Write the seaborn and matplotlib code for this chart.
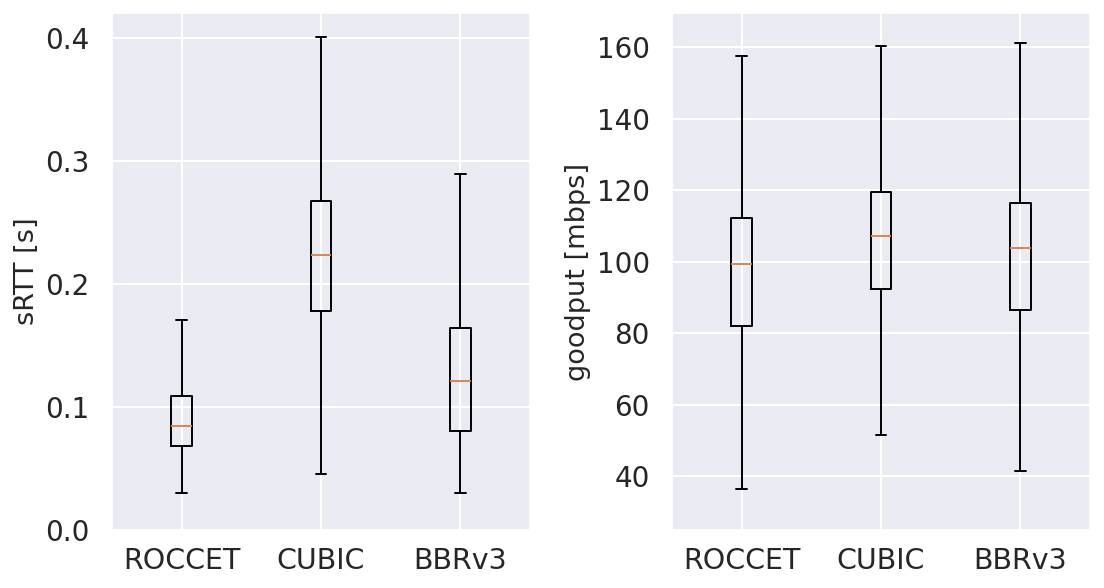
import matplotlib
matplotlib.use("Agg")
import matplotlib.pyplot as plt
import seaborn as sns

# Per-algorithm box statistics
algos = ["ROCCET", "CUBIC", "BBRv3"]

srtt_low = [0.0297, 0.0453, 0.0297]
srtt_q1 = [0.0686, 0.1783, 0.0808]
srtt_med = [0.0842, 0.2233, 0.1211]
srtt_q3 = [0.1092, 0.2675, 0.1639]
srtt_high = [0.1708, 0.4006, 0.2889]

gp_low = [36.4, 51.6, 41.6]
gp_q1 = [81.9, 92.3, 86.5]
gp_med = [99.4, 107.2, 103.7]
gp_q3 = [112.2, 119.5, 116.5]
gp_high = [157.4, 160.2, 161.2]

sns.set_theme(style="darkgrid")
plt.rcParams["grid.linewidth"] = 1.5


def make_stats(low, q1, med, q3, high):
    return [dict(label=a, whislo=lo, q1=a1, med=m, q3=a3, whishi=hi, fliers=[])
            for a, lo, a1, m, a3, hi in zip(algos, low, q1, med, q3, high)]


fig = plt.figure(figsize=(11.04, 5.88), dpi=100)
ax1 = fig.add_axes([112 / 1104, 1 - 530 / 588, 418 / 1104, 517 / 588])
ax2 = fig.add_axes([672 / 1104, 1 - 530 / 588, 418 / 1104, 517 / 588])

panels = [
    (ax1, make_stats(srtt_low, srtt_q1, srtt_med, srtt_q3, srtt_high), "sRTT [s]", (0, 0.42)),
    (ax2, make_stats(gp_low, gp_q1, gp_med, gp_q3, gp_high), "goodput [mbps]", (25, 169.5)),
]

lw = 1.4
for ax, stats, ylabel, ylim in panels:
    ax.bxp(stats, positions=[1, 2, 3], widths=0.15, showfliers=False,
           boxprops=dict(color="black", linewidth=lw),
           whiskerprops=dict(color="black", linewidth=lw),
           capprops=dict(color="black", linewidth=lw),
           medianprops=dict(color="#dd8452", linewidth=lw))
    ax.set_xlim(0.5, 3.5)
    ax.set_ylim(*ylim)
    ax.set_ylabel(ylabel, fontsize=19.5)
    ax.tick_params(axis="x", labelsize=20.5, pad=6.5)
    ax.tick_params(axis="y", labelsize=20, pad=10)

ax1.set_yticks([0.0, 0.1, 0.2, 0.3, 0.4])
ax2.set_yticks([40, 60, 80, 100, 120, 140, 160])

fig.savefig("out.png", dpi=100)
